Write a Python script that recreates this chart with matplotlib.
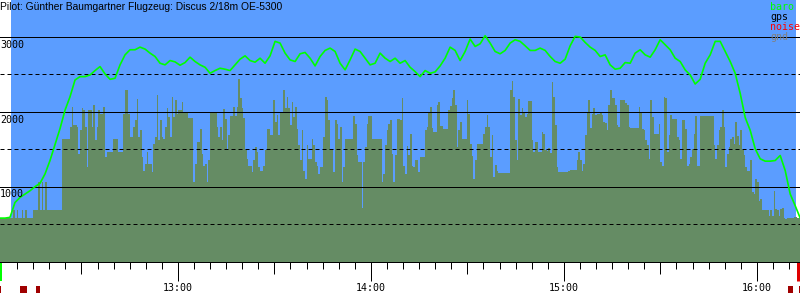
import numpy as np
import matplotlib
matplotlib.use("Agg")
import matplotlib.pyplot as plt
from matplotlib.transforms import blended_transform_factory
from matplotlib.ticker import MultipleLocator, FixedLocator, NullFormatter
from matplotlib.patches import Rectangle

# ---------------- data ----------------
title = "Pilot: Günther Baumgartner Flugzeug: Discus 2/18m OE-5300"
log_start = "12:04:41"
view_end = "16:13:25"
takeoff = "12:08:07"
landing = "16:12:10"
rec_start = "12:05:00"
rec_end = "16:12:57"
gnd_interval_s = 31.1
baro_interval_s = 93.3

baro_alt = [
    580, 580, 590, 789, 856, 901, 946, 1000, 1045, 1170, 1350, 1565, 1776, 2022, 2202, 2426, 2471, 2471, 2493, 2552,
    2605, 2507, 2435, 2449, 2628, 2762, 2830, 2830, 2865, 2839, 2785, 2740, 2650, 2628, 2686, 2668, 2623, 2659, 2731, 2673,
    2628, 2596, 2516, 2552, 2583, 2570, 2552, 2628, 2704, 2749, 2686, 2664, 2717, 2650, 2749, 2942, 2919, 2785, 2695, 2673,
    2776, 2794, 2717, 2614, 2740, 2821, 2852, 2807, 2650, 2561, 2695, 2839, 2807, 2717, 2628, 2650, 2785, 2717, 2673, 2717,
    2650, 2686, 2596, 2538, 2471, 2552, 2516, 2534, 2614, 2717, 2865, 2821, 2686, 2807, 2973, 2874, 2910, 3018, 2919, 2807,
    2776, 2821, 2919, 2964, 2942, 2883, 2821, 2821, 2852, 2821, 2740, 2673, 2650, 2704, 2883, 3009, 3000, 2928, 2865, 2821,
    2740, 2762, 2628, 2570, 2583, 2659, 2650, 2785, 2830, 2762, 2731, 2830, 2964, 2897, 2830, 2717, 2673, 2561, 2493, 2372,
    2435, 2650, 2762, 2942, 2942, 2807, 2673, 2516, 2247, 1924, 1753, 1507, 1372, 1341, 1341, 1350, 1417, 1215, 901, 745,
    580,
]

gnd_alt = [
    579, 579, 579, 579, 579, 579, 588, 588, 686, 588, 686, 588, 588, 686, 588, 686, 588, 588, 588, 588, 686,
    686, 686, 1058, 686, 1058, 686, 1058, 686, 686, 686, 686, 686, 686, 686, 686, 686,
    1641, 1641, 1641, 1641, 1641, 1798, 2067, 1821, 1821, 1798, 1440, 1753, 2045, 2022, 1798, 1260, 2022, 2022, 1798,
    2090, 1619, 1798, 2022, 1978, 1978, 2067, 1395,
    1462, 1462, 1462, 1462, 1641, 1641, 1641, 1462, 1462, 1462, 1978, 2292, 2292, 1978, 1664, 1664, 1798, 1888, 2166,
    1664, 1753, 1395, 1215, 1305, 1462, 1305, 1305, 1193, 1574, 1664, 2224, 1619, 1888, 1664, 1641, 1798, 2045, 1933,
    1664, 2202, 1933, 2157, 1978, 2022, 2022, 2135, 2000, 2000, 2000, 1924, 1924, 1924, 1058, 1305, 1596, 1596,
    1776, 1440, 1283, 1305, 1058, 1350, 2000, 2000, 2000, 2000,
    1798, 1664, 1798, 1619, 2036, 1910, 1484, 1686, 1942, 1942,
    2067, 1942, 2067, 2435, 2179, 2045, 1924, 1484, 1372, 1283, 1283, 1193, 1350, 1529, 1462, 1260, 1215, 1215, 1283, 1484,
    1767, 1767, 1686, 1686,
    2157, 1866, 1955, 1686, 2000, 2000, 2292, 2045, 2202, 2058, 1821, 2135, 1933, 2067, 1776, 1552, 1350, 1762, 1215, 1103,
    1552, 1372, 1372, 1641, 1552, 1327, 1283, 1170, 1269, 1269,
    1664, 2202, 2157, 1888, 1507, 1507, 1193, 1888, 1843, 1641, 1798, 1058, 1260,
    1641, 1641, 1641, 1641, 1641,
    1942, 1843, 1417, 1327, 1327, 721, 1327, 1529, 1843, 1942, 1942,
    1641, 1641, 1641, 1641, 1641, 1641,
    1058, 1170, 1552, 1753, 1843, 1888, 1440, 1058, 1417, 1910, 1910,
    1888, 2179, 1283, 1170, 1538, 1417, 1709, 1283, 1260, 1359, 1359, 1193, 1395, 1395, 1395,
    1762, 1798, 2000, 2067, 1789, 1731, 1731, 2090, 2135, 1807, 1807, 1776, 1776, 1776,
    2022, 2076, 2179, 2292, 2090, 1529, 1762, 1866, 1641, 1641, 1641,
    2157, 1969, 1574, 1404, 1103, 1350, 1574, 1574, 1574, 1574,
    1700, 1798, 1955, 1798, 1395, 1686, 1126, 1296, 1215, 1179, 1179, 1179, 1179, 1179, 1179, 1179,
    2292, 2417, 2202, 1619, 1350, 2166, 1955, 2058, 2000, 1933, 1978, 2148, 2148, 1619, 1462, 1596, 1596,
    1462, 1462, 1731, 1709, 1484, 1475, 1520, 1449, 2404, 2202, 1821, 1269,
    1193, 1193, 1193, 1193, 1193, 1193, 1215, 1224, 1224, 1224, 1224,
    1350, 1462, 1350, 1215, 1305, 1686, 1987, 2157, 1789, 1978, 2045, 1955, 1969, 1969,
    2000, 1955, 1866, 1852, 1753, 2090, 2292, 2179, 2179, 2090, 1821, 1798, 2157, 2157, 2157,
    2121, 2090, 1798, 1789, 1789, 1789, 1789, 1789,
    2067, 2000, 1776, 1753, 1619, 1552, 1372, 2157, 1933, 1709, 1709, 1709,
    1843, 1327, 1283, 2202, 2179, 1462, 1686, 1955, 1910, 1910, 1910, 1664, 1619, 1372, 1897, 1897,
    1776, 1283, 1305, 1395, 1507, 1709, 1942, 1283, 1283,
    1942, 1942, 1942, 1942, 1942, 1942, 1942, 1942,
    1552, 1372, 1552, 1753, 1798, 2022, 1798, 1260, 1440, 1529, 1641, 1664, 1574, 1866, 1673,
    1552, 1753, 1484, 1417, 1260, 1215, 1215, 1350, 924, 900, 1103, 1058, 812, 834,
    686, 686, 686, 686, 610, 686, 610, 946, 698, 686, 610, 698, 721, 588, 565,
    579, 579, 579, 579, 597, 597, 588, 588,
]

events = [("12:04:20", "12:05:00"), ("12:10:55", "12:13:05"), ("12:15:53", "12:17:07"),
          ("16:09:42", "16:11:12"), ("16:13:06", "16:14:00")]

grid_solid = [1000, 2000, 3000]
grid_dashed = [500, 1500, 2500]
y_labels = [1000, 2000, 3000]
hour_ticks = [13, 14, 15, 16]
half_ticks = [12.5, 13.5, 14.5, 15.5]
legend_names = ["baro", "gps", "noise", "gnd"]
legend_colors = ["#00ff00", "#000000", "#ff0000", "#808080"]

SKY = "#5b9dff"
GND = "#658c64"
MONO = "DejaVu Sans Mono"


def hours(s):
    h, m, sec = (int(v) for v in s.split(":"))
    return h + m / 60 + sec / 3600


t0 = hours(log_start)
gnd_edges = t0 + np.arange(len(gnd_alt) + 1) * gnd_interval_s / 3600
baro_t = t0 + np.arange(len(baro_alt)) * baro_interval_s / 3600

PX = 0.72  # one pixel in points

fig = plt.figure(figsize=(8, 3), dpi=100, facecolor="white")
ax = fig.add_axes([0, 38.5 / 300, 1, 261.5 / 300])
ax.set_facecolor("white")
ax.set_xlim(t0, hours(view_end))
ax.set_ylim(0, 3495)

ax.axvspan(hours(takeoff), hours(landing), color=SKY, lw=0, zorder=0)
ax.stairs(gnd_alt, gnd_edges, fill=True, color=GND, baseline=0, lw=0, zorder=1)
for v in grid_solid:
    ax.axhline(v, color="black", lw=PX, zorder=2)
for v in grid_dashed:
    ax.axhline(v, color="black", lw=PX, ls=(0, (4, 3)), zorder=2)
ax.plot(baro_t, baro_alt, color="#00ff00", lw=1.2, zorder=3)

for s in ["left", "right", "top"]:
    ax.spines[s].set_visible(False)
ax.spines["bottom"].set_linewidth(PX)
ax.spines["bottom"].set_zorder(5)
ax.set_yticks([])

ax.xaxis.set_major_locator(FixedLocator(hour_ticks))
ax.set_xticklabels([f"{h}:00" for h in hour_ticks], fontsize=7.2, family=MONO)
ax.xaxis.set_minor_locator(MultipleLocator(5 / 60))
ax.xaxis.set_minor_formatter(NullFormatter())
ax.tick_params(axis="x", which="major", length=19 * PX, width=PX, pad=1.5, direction="out")
ax.tick_params(axis="x", which="minor", length=7 * PX, width=PX, direction="out")

sec = ax.secondary_xaxis("bottom")
sec.set_xticks(half_ticks)
sec.xaxis.set_minor_locator(FixedLocator([]))
sec.tick_params(axis="x", which="major", length=12 * PX, width=PX, labelbottom=False)
sec.spines["bottom"].set_linewidth(PX)

bt = blended_transform_factory(ax.transAxes, ax.transData)
for v in y_labels:
    ax.annotate(f"{v}", xy=(0, v), xycoords=bt, xytext=(0, -2), textcoords="offset points",
                ha="left", va="top", fontsize=7.2, family=MONO, zorder=6)

xt = blended_transform_factory(ax.transData, ax.transAxes)
H = 261.5
ax.vlines(hours(rec_start), -0.5 / H, -19 / H, transform=xt, colors="#00ff00", lw=2 * PX, clip_on=False)
ax.vlines(hours(rec_end), -0.5 / H, -19 / H, transform=xt, colors="#e00000", lw=3 * PX, clip_on=False)
for a, b in events:
    ax.add_patch(Rectangle((hours(a), -31 / H), hours(b) - hours(a), 7 / H, transform=xt,
                           facecolor="#a00000", edgecolor="none", clip_on=False))

for i, (name, col) in enumerate(zip(legend_names, legend_colors)):
    fig.text(770 / 800, 1 - (10 + 10 * i) / 300, name, color=col, fontsize=7.2, family=MONO,
             ha="left", va="baseline")

fig.text(0.0, 1 - 9.5 / 300, title, fontsize=7.4, family="Liberation Sans", ha="left", va="baseline")

fig.savefig("out.png", dpi=100, facecolor="white")
